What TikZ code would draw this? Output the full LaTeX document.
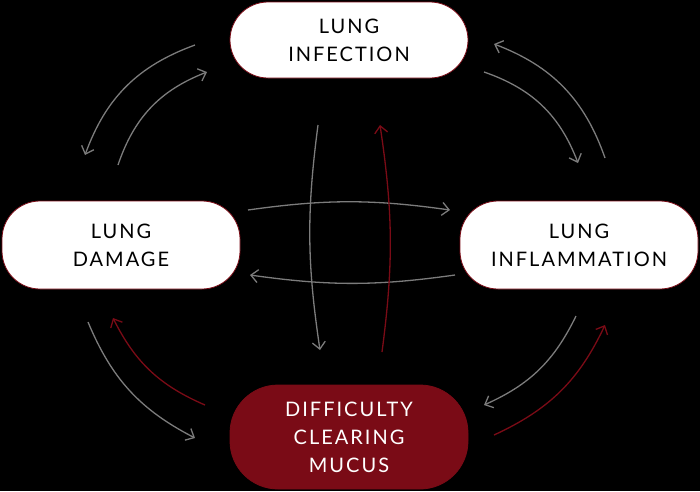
\documentclass[tikz,border=0pt]{standalone}
\usepackage{fontspec}
\setsansfont[LetterSpace=10]{Lato}
\usetikzlibrary{arrows.meta}
\definecolor{lungred}{HTML}{7A0B16}
\definecolor{flowgray}{HTML}{7C7C7C}
\begin{document}
\begin{tikzpicture}
            [x=1pt, y=-1pt, font=\sffamily\fontsize{20}{28}\selectfont,
            pill/.style={rounded corners=38pt, draw=lungred, thick,
                align=center, minimum width=238pt},
            flow/.style={draw=flowgray, line width=1.3pt, -{Straight Barb[length=7pt, width=13pt]}},
            back/.style={flow, draw=lungred}]
            \fill [black] (0,0) rectangle (700,491);
            % the four states
            \node [pill, fill=white, minimum height=76pt] (infect) at (349,40) {LUNG\\INFECTION};
            \node [pill, fill=white, minimum height=88pt] (damage) at (121,245) {LUNG\\DAMAGE};
            \node [pill, fill=white, minimum height=88pt] (inflam) at (579,245) {LUNG\\INFLAMMATION};
            \node [pill, fill=lungred, text=white, minimum height=104pt, rounded corners=48pt] (mucus) at (349,437) {DIFFICULTY\\CLEARING\\MUCUS};
            % arrow ends
            \coordinate (tlA) at (195,45);  \coordinate (tlB) at (85,155);
            \coordinate (tlC) at (118,165); \coordinate (tlD) at (207,72);
            \coordinate (trA) at (484,72);  \coordinate (trB) at (578,163);
            \coordinate (trC) at (605,158); \coordinate (trD) at (494,44);
            \coordinate (hA) at (248,210);  \coordinate (hB) at (450,210);
            \coordinate (hC) at (455,275);  \coordinate (hD) at (250,275);
            \coordinate (vA) at (318,125);  \coordinate (vB) at (320,350);
            \coordinate (vC) at (382,352);  \coordinate (vD) at (380,125);
            \coordinate (blA) at (205,405); \coordinate (blB) at (113,318);
            \coordinate (blC) at (88,322);  \coordinate (blD) at (195,438);
            \coordinate (brA) at (576,316); \coordinate (brB) at (484,405);
            \coordinate (brC) at (494,435); \coordinate (brD) at (605,325);
            % cycles
            \draw [flow] (tlA) to [bend right=25] (tlB);
            \draw [flow] (tlC) to [bend left=25] (tlD);
            \draw [flow] (trA) to [bend left=25] (trB);
            \draw [flow] (trC) to [bend right=25] (trD);
            \draw [flow] (hA) to [bend left=8] (hB);
            \draw [flow] (hC) to [bend left=8] (hD);
            \draw [flow] (vA) to [bend right=8] (vB);
            \draw [back] (vC) to [bend right=8] (vD);
            \draw [back] (blA) to [bend left=20] (blB);
            \draw [flow] (blC) to [bend right=20] (blD);
            \draw [flow] (brA) to [bend left=20] (brB);
            \draw [back] (brC) to [bend right=20] (brD);
\end{tikzpicture}
\end{document}
